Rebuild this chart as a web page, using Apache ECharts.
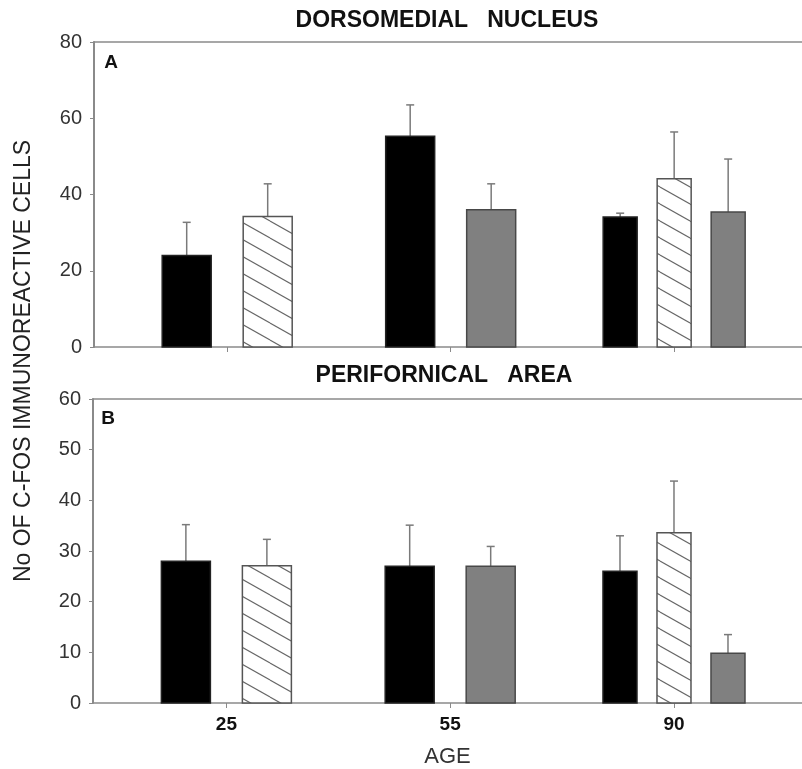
<!DOCTYPE html>
<html><head><meta charset="utf-8">
<script src="https://cdn.jsdelivr.net/npm/echarts@6/dist/echarts.min.js"></script>
<style>html,body{margin:0;padding:0;background:#fff}#c{width:802px;height:769px}</style>
</head><body><div id="c"></div>
<script>
// ---- data ----
const categories = ['25', '55', '90'];
const panelTitles = ['DORSOMEDIAL   NUCLEUS', 'PERIFORNICAL   AREA'];
const panelLetters = ['A', 'B'];
const yTitle = 'No OF C-FOS IMMUNOREACTIVE CELLS';
const xTitle = 'AGE';
// Panel A: dorsomedial nucleus (mean, upper error)
const dmnBlack = [24.0, 55.3, 34.1];
const dmnBlackErr = [8.7, 8.2, 1.0];
const dmnHatched = [34.2, null, 44.1];
const dmnHatchedErr = [8.6, null, 12.3];
const dmnGray = [null, 36.0, 35.4];
const dmnGrayErr = [null, 6.8, 13.9];
// Panel B: perifornical area
const pfaBlack = [28.0, 27.0, 26.0];
const pfaBlackErr = [7.2, 8.1, 7.0];
const pfaHatched = [27.1, null, 33.6];
const pfaHatchedErr = [5.2, null, 10.2];
const pfaGray = [null, 27.0, 9.8];
const pfaGrayErr = [null, 3.9, 3.7];
const yTicksA = [0, 20, 40, 60, 80];
const yTicksB = [0, 10, 20, 30, 40, 50, 60];

// ---- styles ----
const FONT = "'Liberation Sans', Arial, sans-serif";
const AXIS = '#8a8a8a';

function hatchCanvas() {
  const W = 30, H = 17;
  const cv = document.createElement('canvas');
  cv.width = W; cv.height = H;
  const ctx = cv.getContext('2d');
  ctx.fillStyle = '#fff'; ctx.fillRect(0, 0, W, H);
  ctx.strokeStyle = '#666'; ctx.lineWidth = 1.1;
  for (const dy of [-H, 0, H]) {
    ctx.beginPath(); ctx.moveTo(0, dy); ctx.lineTo(W, dy + H); ctx.stroke();
  }
  return cv;
}
const hatch = { image: hatchCanvas(), repeat: 'repeat' };
const barStyles = [
  { fill: '#000', stroke: '#222' },
  { fill: hatch, stroke: '#555' },
  { fill: '#808080', stroke: '#484848' }
];

function makeSeries(vals, errs, sIdx, panelVals, xi, yi, name) {
  const data = [];
  vals.forEach((v, g) => { if (v != null) data.push([g, v, errs[g]]); });
  return {
    type: 'custom', name, xAxisIndex: xi, yAxisIndex: yi, data,
    renderItem: function (params, api) {
      const g = api.value(0), v = api.value(1), e = api.value(2);
      const slots = [];
      panelVals.forEach((arr, i) => { if (arr[g] != null) slots.push(i); });
      const n = slots.length;
      const slot = slots.indexOf(sIdx);
      const bw = n === 3 ? 34 : 49;
      const step = n === 3 ? 54 : 81;
      const base = api.coord([g, 0]);
      const top = api.coord([g, v]);
      const et = api.coord([g, v + e]);
      const cx = base[0] + (slot - (n - 1) / 2) * step;
      const st = barStyles[sIdx];
      return {
        type: 'group',
        children: [
          { type: 'line', shape: { x1: cx, y1: top[1], x2: cx, y2: et[1] },
            style: { stroke: '#7a7a7a', lineWidth: 1.5 } },
          { type: 'line', shape: { x1: cx - 4, y1: et[1], x2: cx + 4, y2: et[1] },
            style: { stroke: '#7a7a7a', lineWidth: 1.5 } },
          { type: 'rect', shape: { x: cx - bw / 2, y: top[1], width: bw, height: base[1] - top[1] },
            style: { fill: st.fill, stroke: st.stroke, lineWidth: 1.5 } }
        ]
      };
    }
  };
}

const panelA = [dmnBlack, dmnHatched, dmnGray];
const panelB = [pfaBlack, pfaHatched, pfaGray];
const XMIN = -0.596, XMAX = 2.572;

function xAxisBottom(gi, showLabels) {
  return {
    type: 'value', gridIndex: gi, min: XMIN, max: XMAX, position: 'bottom',
    axisLine: { show: true, onZero: false, lineStyle: { color: AXIS, width: 1.5 } },
    axisTick: { show: true, customValues: [0, 1, 2], length: 5, lineStyle: { color: AXIS } },
    axisLabel: { show: showLabels, customValues: [0, 1, 2], formatter: v => categories[Math.round(v)],
      fontFamily: FONT, fontSize: 19, fontWeight: 'bold', color: '#111', margin: 12 },
    splitLine: { show: false }
  };
}
function xAxisTop(gi) {
  return {
    type: 'value', gridIndex: gi, min: XMIN, max: XMAX, position: 'top',
    axisLine: { show: true, onZero: false, lineStyle: { color: AXIS, width: 1.5 } },
    axisTick: { show: false }, axisLabel: { show: false }, splitLine: { show: false }
  };
}
function yAxis(gi, ticks) {
  return {
    type: 'value', gridIndex: gi, min: ticks[0], max: ticks[ticks.length - 1],
    interval: ticks[1] - ticks[0], position: 'left',
    axisLine: { show: true, onZero: false, lineStyle: { color: AXIS, width: 2 } },
    axisTick: { show: true, length: 4, lineStyle: { color: AXIS } },
    axisLabel: { fontFamily: FONT, fontSize: 20, color: '#333', margin: 12 },
    splitLine: { show: false }
  };
}

const xa2 = xAxisBottom(1, true);
xa2.name = xTitle; xa2.nameLocation = 'middle'; xa2.nameGap = 43;
xa2.nameTextStyle = { fontFamily: FONT, fontSize: 22, color: '#333' };

const option = {
  backgroundColor: '#fff',
  animation: false,
  grid: [
    { left: 94, right: 0, top: 42, height: 305 },
    { left: 93, right: 0, top: 399, height: 305 }
  ],
  xAxis: [xAxisBottom(0, false), xAxisTop(0), xa2, xAxisTop(1)],
  yAxis: [yAxis(0, yTicksA), yAxis(1, yTicksB)],
  graphic: [
    { type: 'text', x: 447, y: 21, style: { text: panelTitles[0], font: "bold 23px " + FONT, fill: '#111', textAlign: 'center', textVerticalAlign: 'middle' } },
    { type: 'text', x: 444, y: 376, style: { text: panelTitles[1], font: "bold 23px " + FONT, fill: '#111', textAlign: 'center', textVerticalAlign: 'middle' } },
    { type: 'text', x: 111, y: 63, style: { text: panelLetters[0], font: "bold 19px " + FONT, fill: '#111', textAlign: 'center', textVerticalAlign: 'middle' } },
    { type: 'text', x: 108, y: 419, style: { text: panelLetters[1], font: "bold 19px " + FONT, fill: '#111', textAlign: 'center', textVerticalAlign: 'middle' } },
    { type: 'text', x: 24, y: 361, rotation: Math.PI / 2, style: { text: yTitle, font: "23px " + FONT, fill: '#222', textAlign: 'center', textVerticalAlign: 'middle' } }
  ],
  series: [
    makeSeries(dmnBlack, dmnBlackErr, 0, panelA, 0, 0, 'A-black'),
    makeSeries(dmnHatched, dmnHatchedErr, 1, panelA, 0, 0, 'A-hatched'),
    makeSeries(dmnGray, dmnGrayErr, 2, panelA, 0, 0, 'A-gray'),
    makeSeries(pfaBlack, pfaBlackErr, 0, panelB, 2, 1, 'B-black'),
    makeSeries(pfaHatched, pfaHatchedErr, 1, panelB, 2, 1, 'B-hatched'),
    makeSeries(pfaGray, pfaGrayErr, 2, panelB, 2, 1, 'B-gray')
  ]
};
const chart = echarts.init(document.getElementById('c'), null, { renderer: 'canvas' });
chart.setOption(option);
</script>
</body></html>
